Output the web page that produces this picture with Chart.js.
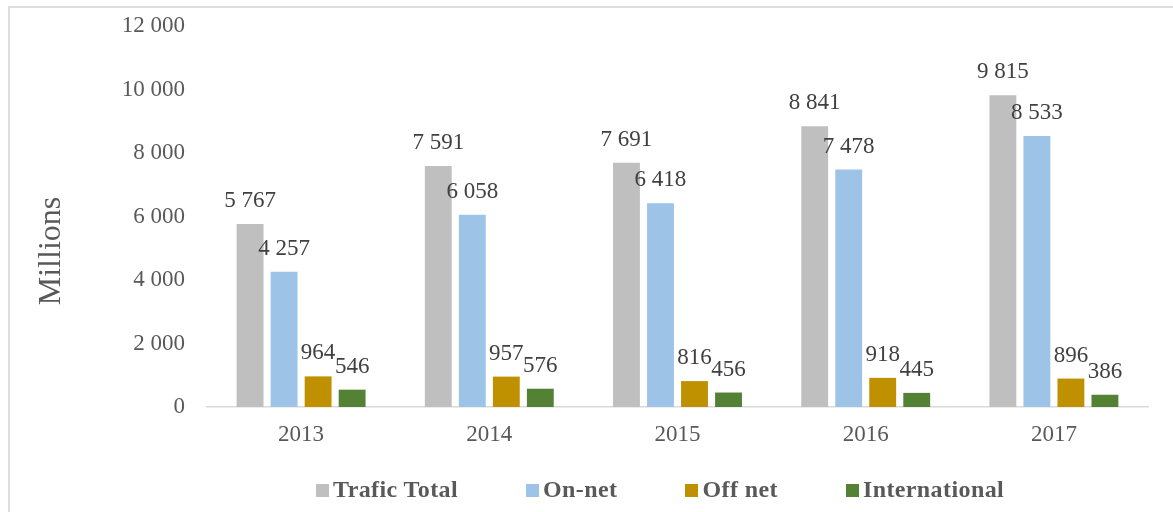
<!DOCTYPE html>
<html>
<head>
<meta charset="utf-8">
<script src="https://cdn.jsdelivr.net/npm/chart.js@4/dist/chart.umd.min.js"></script>
<style>
  body { margin: 0; background: #fff; }
  #wrap { position: relative; width: 1173px; height: 512px; overflow: hidden; }
  #frame { position: absolute; left: 8px; top: 6px; width: 1200px; height: 600px; border: 2px solid #dedede; box-sizing: border-box; }
  #traffic { position: absolute; left: 0; top: 0; }
  #legend { position: absolute; left: 316px; top: 477px; display: flex; align-items: baseline;
            font: bold 24px "Liberation Serif", "Times New Roman", serif; line-height: 24px; letter-spacing: 0.4px;
            color: #595959; white-space: nowrap; }
  #legend .item { margin-right: 68px; }
  #legend .box { display: inline-block; width: 13px; height: 13px; margin-right: 4px; vertical-align: baseline; }
</style>
</head>
<body>
<div id="wrap">
  <div id="frame"></div>
  <canvas id="traffic" width="1173" height="512"></canvas>
  <div id="legend"></div>
</div>
<script>
//data
let years=['2013', '2014', '2015', '2016', '2017'];
let traficTotal=[5767, 7591, 7691, 8841, 9815];
let onNet=[4257, 6058, 6418, 7478, 8533];
let offNet=[964, 957, 816, 918, 896];
let international=[546, 576, 456, 445, 386];
let seriesNames=['Trafic Total', 'On-net', 'Off net', 'International'];
let seriesColors=['#BFBFBF', '#9DC3E6', '#BF9000', '#548235'];
let yTicks=[0, 2000, 4000, 6000, 8000, 10000, 12000];

let serif='"Liberation Serif", "Times New Roman", serif';

//thousands with a space
function fmt(v){
  return String(v).replace(/\B(?=(\d{3})+(?!\d))/g, ' ');
}

//value labels above bars
let valueLabels={
  id:'valueLabels',
  afterDatasetsDraw(chart){
    let ctx=chart.ctx;
    ctx.save();
    ctx.font='23px '+serif;
    ctx.fillStyle='#404040';
    ctx.textAlign='center';
    ctx.textBaseline='alphabetic';
    chart.data.datasets.forEach((ds, i)=>{
      chart.getDatasetMeta(i).data.forEach((bar, j)=>{
        ctx.fillText(fmt(ds.data[j]), bar.x, bar.y-17);
      });
    });
    ctx.restore();
  }
};

//axis title on the left
let yTitle={
  id:'yTitle',
  afterDraw(chart){
    let ctx=chart.ctx;
    ctx.save();
    ctx.translate(52, 251);
    ctx.rotate(-Math.PI/2);
    ctx.font='32px '+serif;
    ctx.fillStyle='#595959';
    ctx.textAlign='center';
    ctx.textBaseline='middle';
    ctx.fillText('Millions', 0, 0);
    ctx.restore();
  }
};

let allData=[traficTotal, onNet, offNet, international];

let trafficChart=new Chart(document.getElementById('traffic'), {
  type:'bar',
  data:{
    labels:years,
    datasets:seriesNames.map((name, i)=>({
      label:name,
      data:allData[i],
      backgroundColor:seriesColors[i],
      categoryPercentage:0.723,
      barPercentage:0.79
    }))
  },
  options:{
    responsive:false,
    animation:false,
    layout:{padding:{left:0, top:26, right:25, bottom:55}},
    plugins:{
      legend:{display:false},
      tooltip:{enabled:false}
    },
    scales:{
      x:{
        grid:{display:false, drawTicks:false},
        border:{display:true, color:'#d9d9d9', width:1.5},
        ticks:{color:'#595959', font:{family:serif, size:23}, padding:14},
        afterFit(scale){ scale.height=50; }
      },
      y:{
        min:0,
        max:12000,
        afterBuildTicks(scale){ scale.ticks=yTicks.map(v=>({value:v})); },
        grid:{display:false, drawTicks:false},
        border:{display:false},
        ticks:{color:'#595959', font:{family:serif, size:23}, padding:22, callback:v=>fmt(v)},
        afterFit(scale){
          scale.width=207;
          scale.paddingTop=0;
          scale.paddingBottom=0;
        }
      }
    }
  },
  plugins:[valueLabels, yTitle]
});

//html legend
let legend=document.getElementById('legend');
seriesNames.forEach((name, i)=>{
  let item=document.createElement('span');
  item.className='item';
  let box=document.createElement('span');
  box.className='box';
  box.style.background=seriesColors[i];
  item.appendChild(box);
  item.appendChild(document.createTextNode(name));
  legend.appendChild(item);
});
</script>
</body>
</html>
